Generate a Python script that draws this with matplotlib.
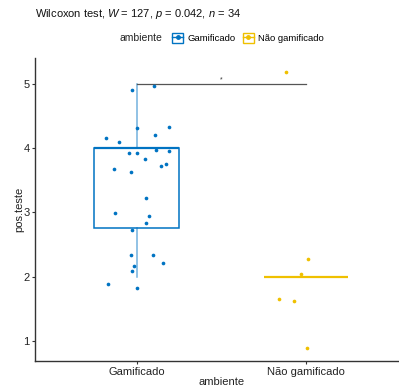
import matplotlib
matplotlib.use("Agg")
import matplotlib.pyplot as plt
from matplotlib.patches import Patch
from matplotlib.lines import Line2D
from matplotlib.legend_handler import HandlerTuple

plt.rcParams['font.family'] = ['Liberation Sans', 'DejaVu Sans']
plt.rcParams['mathtext.fontset'] = 'custom'
plt.rcParams['mathtext.rm'] = 'Liberation Sans'
plt.rcParams['mathtext.it'] = 'Liberation Sans:italic'

categories = ["Gamificado", "Não gamificado"]
colors = ["#0073C2", "#EFC000"]

# jittered points (value, horizontal jitter offset in category units)
gam_values = [4.91, 4.96, 4.31, 4.33, 4.21, 4.16, 4.10, 3.93, 3.93, 3.97, 3.96,
              3.83, 3.68, 3.63, 3.72, 3.75, 3.23, 2.99, 2.95, 2.84, 2.73,
              2.34, 2.33, 2.22, 2.16, 2.09, 1.89, 1.83]
gam_jitter = [-0.025, 0.105, 0.002, 0.193, 0.111, -0.181, -0.104, -0.045, 0.002, 0.117, 0.193,
              0.050, -0.136, -0.031, 0.144, 0.176, 0.055, -0.130, 0.071, 0.055, -0.025,
              -0.031, 0.095, 0.154, -0.018, -0.025, -0.168, 0.000]
nao_values = [5.19, 2.27, 2.04, 1.65, 1.63, 0.89]
nao_jitter = [-0.120, 0.012, -0.028, -0.156, -0.069, 0.004]

# box statistics
box_q1 = [2.76, 2.0]
box_med = [4.0, 2.0]
box_q3 = [4.0, 2.0]
box_lo = [2.0, 2.0]
box_hi = [5.0, 2.0]

title_text = "Wilcoxon test, $W$ = 127, $p$ = 0.042, $n$ = 34"
sig_label = "*"
bracket_y = 5.0
legend_title = "ambiente"

fig = plt.figure(figsize=(3.99, 3.87), dpi=100)
W, H = 399, 387
ax_l, ax_r, ax_t, ax_b = 35, 407.4, 58, 361
ax = fig.add_axes([ax_l / W, 1 - ax_b / H, (ax_r - ax_l) / W, (ax_b - ax_t) / H])

positions = [1, 2]
for i in range(2):
    c = colors[i]
    st = dict(med=box_med[i], q1=box_q1[i], q3=box_q3[i],
              whislo=box_lo[i], whishi=box_hi[i], fliers=[])
    ax.bxp([st], positions=[positions[i]], widths=0.5, showfliers=False,
           showcaps=False, patch_artist=True,
           boxprops=dict(facecolor='white', edgecolor=c, linewidth=1.1),
           medianprops=dict(color=c, linewidth=1.6),
           whiskerprops=dict(color=c, linewidth=1.1, alpha=0.55))

ax.scatter([1 + j for j in gam_jitter], gam_values, s=7, color=colors[0], zorder=3, linewidths=0)
ax.scatter([2 + j for j in nao_jitter], nao_values, s=7, color=colors[1], zorder=3, linewidths=0)

# significance bracket
ax.plot(positions, [bracket_y, bracket_y], color='#555555', linewidth=0.9, zorder=2)
ax.text(1.5, bracket_y + 0.01, sig_label, ha='center', va='bottom', fontsize=5, color='#333333')

ax.set_xlim(0.4, 2.6)
ax.set_ylim(0.69, 5.40)
ax.set_xticks(positions)
ax.set_xticklabels(categories, fontsize=8, color='#222222')
ax.set_yticks([1, 2, 3, 4, 5])
ax.tick_params(axis='y', labelsize=8, labelcolor='#222222')
ax.tick_params(length=2.5, width=0.8, color='#333333', pad=1.5)
for s in ['top', 'right']:
    ax.spines[s].set_visible(False)
for s in ['left', 'bottom']:
    ax.spines[s].set_color('#333333')
    ax.spines[s].set_linewidth(1.0)
ax.set_xlabel("ambiente", fontsize=8, color='#222222', labelpad=0)
ax.set_ylabel("pos.teste", fontsize=8, color='#222222', labelpad=-1)

fig.text(ax_l / W, 1 - 14 / H, title_text, fontsize=8, ha='left', va='center', color='#111111')

# legend: title on the left, entries to the right
fig.text(120 / W, 1 - 38 / H, legend_title, fontsize=7.5, ha='left', va='center', color='#222222')
handles = []
for c in colors:
    handles.append((Patch(facecolor='white', edgecolor=c, linewidth=1.0),
                    Line2D([], [], color=c, marker='o', markersize=2.5, linewidth=1.0)))
fig.legend(handles, categories, handler_map={tuple: HandlerTuple(ndivide=1, pad=0)},
           loc='center left', bbox_to_anchor=(172 / W, 1 - 38 / H), ncol=2, frameon=False,
           fontsize=6.8, handlelength=1.2, handleheight=1.2, handletextpad=0.4,
           columnspacing=0.8, borderpad=0, borderaxespad=0)

fig.savefig("out.png", dpi=100)
